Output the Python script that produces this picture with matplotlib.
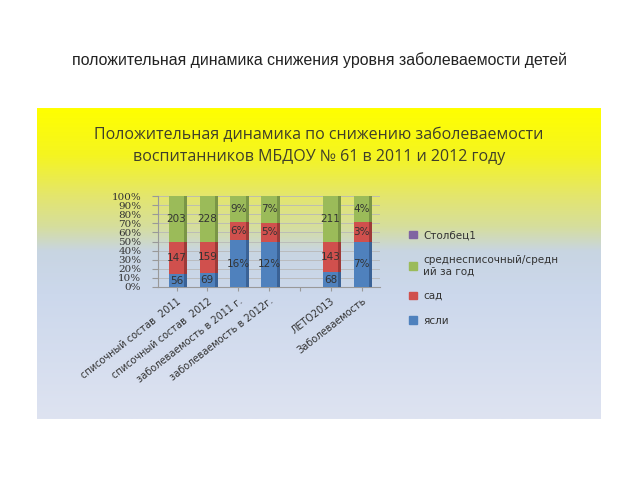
import numpy as np
import matplotlib
matplotlib.use("Agg")
import matplotlib.pyplot as plt
from matplotlib.colors import LinearSegmentedColormap
from matplotlib.patches import Patch

categories = ["списочный состав  2011", "списочный состав  2012",
              "заболеваемость в 2011 г.", "заболеваемость в 2012г.",
              "", "ЛЕТО2013", "Заболеваемость"]
yasli = [56, 69, 16, 12, 0, 68, 7]
sad = [147, 159, 6, 5, 0, 143, 3]
sredn = [203, 228, 9, 7, 0, 211, 4]
yasli_labels = ["56", "69", "16%", "12%", "", "68", "7%"]
sad_labels = ["147", "159", "6%", "5%", "", "143", "3%"]
sredn_labels = ["203", "228", "9%", "7%", "", "211", "4%"]
yticks = [0, 10, 20, 30, 40, 50, 60, 70, 80, 90, 100]

c_blue = "#4F81BD"
c_red = "#D0504D"
c_green = "#9BBB59"
c_purple = "#8064A2"
side = {c_blue: "#3A6296", c_red: "#9E3A38", c_green: "#7A9646"}

fig = plt.figure(figsize=(6.4, 4.8), dpi=100)
fig.patch.set_facecolor("white")

fig.text(0.5, 1 - 60 / 480, "положительная динамика снижения уровня заболеваемости детей",
         ha="center", va="center", fontsize=11.4, color="#222222", family="Liberation Sans")

# background panel with gradient
bg = fig.add_axes([37 / 640, 1 - 419 / 480, (601 - 37) / 640, (419 - 108) / 480])
cmap = LinearSegmentedColormap.from_list("g", [
    (0.0, "#FFFF00"), (0.15, "#F5F520"), (0.28, "#E4E66C"), (0.38, "#D6DE9C"),
    (0.46, "#C8D5E2"), (0.6, "#CCD8EC"), (1.0, "#DEE3F1")])
grad = np.linspace(0, 1, 256).reshape(-1, 1)
bg.imshow(grad, aspect="auto", cmap=cmap, extent=[0, 1, 0, 1], origin="upper")
bg.set_xlim(0, 1); bg.set_ylim(0, 1)
bg.axis("off")
bg.text(0.5, 1 - (135 - 108) / 311, "Положительная динамика по снижению заболеваемости",
        ha="center", va="center", fontsize=11.5, color="#3F3F2A", family="Open Sans")
bg.text(0.5, 1 - (157 - 108) / 311, "воспитанников МБДОУ № 61 в 2011 и 2012 году",
        ha="center", va="center", fontsize=11.5, color="#3F3F2A", family="Open Sans")

ax = fig.add_axes([158 / 640, 1 - 287 / 480, (380 - 158) / 640, (287 - 196) / 480])
ax.patch.set_alpha(0)
x = np.arange(len(categories))
tot = np.array(yasli, float) + np.array(sad) + np.array(sredn)
tot[tot == 0] = 1
py = np.array(yasli) / tot * 100
ps = np.array(sad) / tot * 100
pg = np.array(sredn) / tot * 100
w = 0.5
dw = 0.1
for vals, bot, col in [(py, 0, c_blue), (ps, py, c_red), (pg, py + ps, c_green)]:
    ax.bar(x + w / 2 + dw / 2, vals, dw, bottom=bot, color=side[col], linewidth=0, zorder=3)
    ax.bar(x, vals, w, bottom=bot, color=col, linewidth=0, zorder=3)
for i in range(len(x)):
    if tot[i] <= 1:
        continue
    ax.text(x[i], py[i] / 2, yasli_labels[i], ha="center", va="center", fontsize=7.5, color="#333333", zorder=4)
    ax.text(x[i], py[i] + ps[i] / 2, sad_labels[i], ha="center", va="center", fontsize=7.5, color="#333333", zorder=4)
    ax.text(x[i], py[i] + ps[i] + pg[i] / 2, sredn_labels[i], ha="center", va="center", fontsize=7.5, color="#333333", zorder=4)

ax.set_xlim(-0.6, len(x) - 0.4)
ax.set_ylim(0, 100)
ax.set_yticks(yticks)
ax.set_yticklabels([f"{v}%" for v in yticks], fontsize=7.5, color="#333333", family="DejaVu Serif")
ax.yaxis.grid(True, color="#B8B8B8", linewidth=0.6, zorder=0)
ax.set_xticks(x)
ax.set_xticklabels(categories, rotation=38, ha="right", rotation_mode="anchor",
                   fontsize=7, color="#333333")
ax.tick_params(axis="x", length=3, color="#999999")
ax.tick_params(axis="y", length=4, pad=8, color="#999999")
for s in ["top", "right"]:
    ax.spines[s].set_visible(False)
ax.spines["left"].set_color("#999999")
ax.spines["bottom"].set_color("#999999")

handles = [Patch(color=c_purple), Patch(color=c_green), Patch(color=c_red), Patch(color=c_blue)]
labels = ["Столбец1", "среднесписочный/средн\nий за год", "сад", "ясли"]
leg = fig.legend(handles, labels, loc="upper left", bbox_to_anchor=(400 / 640, 1 - 221 / 480),
                 frameon=False, fontsize=7.5, handlelength=0.7, handleheight=0.7,
                 labelspacing=1.4, handletextpad=0.6)
for t in leg.get_texts():
    t.set_color("#333333")

fig.savefig("out.png", dpi=100)
